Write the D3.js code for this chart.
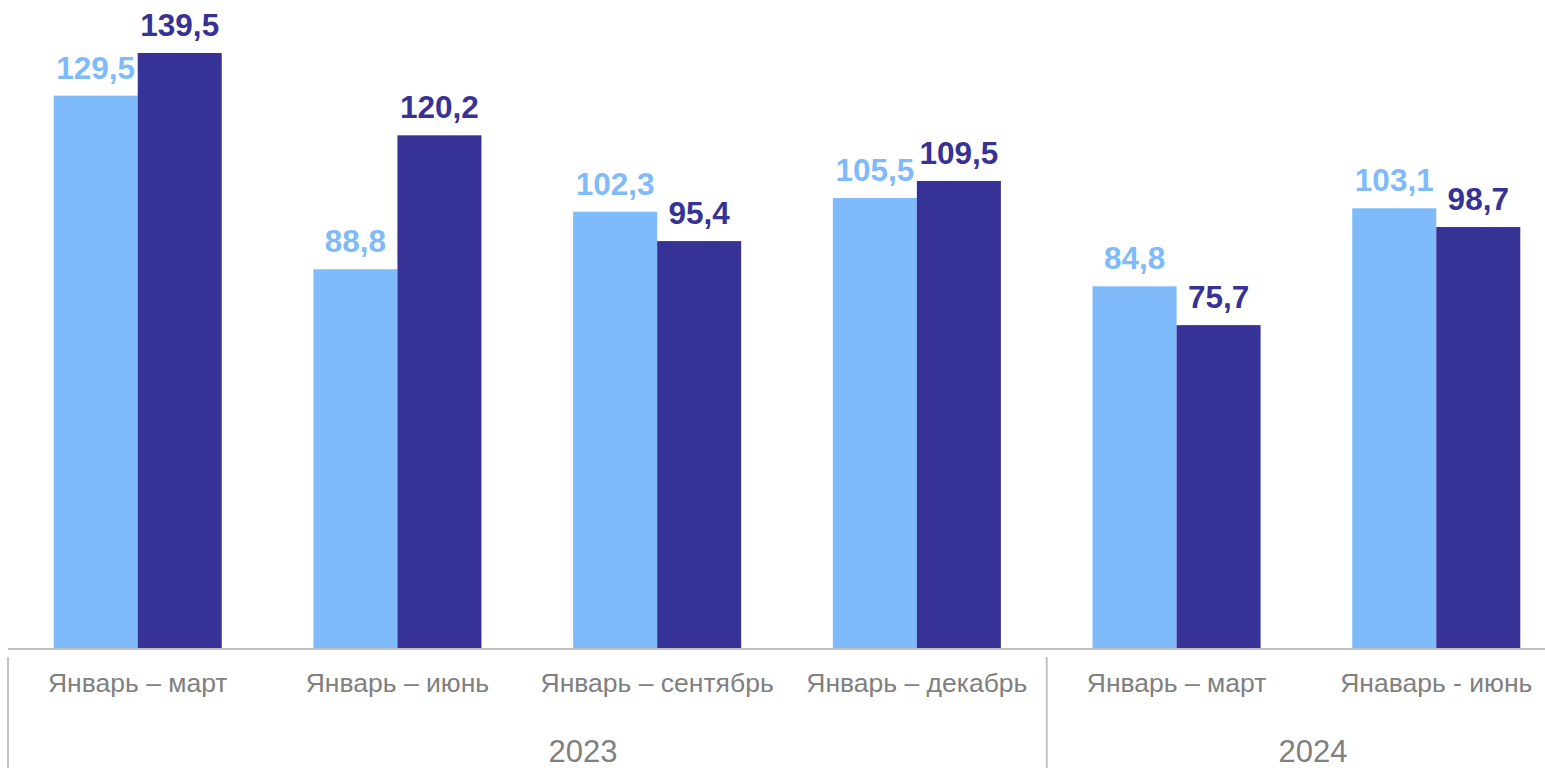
<!DOCTYPE html>
<html>
<head>
<meta charset="utf-8">
<script src="https://cdn.jsdelivr.net/npm/d3@7"></script>
<style>
  body { margin: 0; background: #fff; }
  svg text { font-family: "Liberation Sans", Arial, sans-serif; }
</style>
</head>
<body>
<div id="chart"></div>
<script>
// periods and the two series (light / dark)
var categories = ['Январь – март', 'Январь – июнь', 'Январь – сентябрь', 'Январь – декабрь', 'Январь – март', 'Янаварь - июнь'];
var seriesLight = [129.5, 88.8, 102.3, 105.5, 84.8, 103.1];
var seriesDark = [139.5, 120.2, 95.4, 109.5, 75.7, 98.7];
var years = ['2023', '2024'];

(function() {
    var width = 1545,
        height = 768,
        baseY = 648,
        topY = 53,
        lightColor = '#7fbbfb',
        darkColor = '#373296',
        textGray = '#808080',
        lineGray = '#c0c0c0';

    var fmt = function(v) { return d3.format('.1f')(v).replace('.', ','); };

    var svg = d3.select('#chart').append('svg')
        .attr('width', width)
        .attr('height', height);

    // category bands, last band runs past the right edge like the original
    var x = d3.scaleBand()
        .domain(d3.range(categories.length))
        .range([8, 1566])
        .paddingInner(0.353)
        .paddingOuter(0.176);

    var xs = d3.scaleBand()
        .domain(['light', 'dark'])
        .range([0, x.bandwidth()]);

    var y = d3.scaleLinear()
        .domain([0, 139.5])
        .range([baseY, topY]);

    var rows = categories.map(function(c, i) {
        return { i: i, name: c, values: [['light', seriesLight[i]], ['dark', seriesDark[i]]] };
    });

    var group = svg.selectAll('g.cat')
        .data(rows)
        .enter().append('g')
        .attr('class', 'cat')
        .attr('transform', function(d) { return 'translate(' + x(d.i) + ',0)'; });

    group.selectAll('rect')
        .data(function(d) { return d.values; })
        .enter().append('rect')
        .attr('x', function(d) { return xs(d[0]); })
        .attr('y', function(d) { return y(d[1]); })
        .attr('width', xs.bandwidth())
        .attr('height', function(d) { return baseY - y(d[1]); })
        .attr('fill', function(d) { return d[0] === 'light' ? lightColor : darkColor; });

    group.selectAll('text.value')
        .data(function(d) { return d.values; })
        .enter().append('text')
        .attr('class', 'value')
        .attr('x', function(d) { return xs(d[0]) + xs.bandwidth() / 2; })
        .attr('y', function(d) { return y(d[1]) - 17; })
        .attr('text-anchor', 'middle')
        .attr('font-size', 31.5)
        .attr('font-weight', 'bold')
        .attr('fill', function(d) { return d[0] === 'light' ? lightColor : darkColor; })
        .text(function(d) { return fmt(d[1]); });

    //  axis line
    svg.append('line')
        .attr('x1', 8).attr('x2', width)
        .attr('y1', baseY + 1).attr('y2', baseY + 1)
        .attr('stroke', lineGray)
        .attr('stroke-width', 2);

    //  category labels
    svg.selectAll('text.cat-label')
        .data(rows)
        .enter().append('text')
        .attr('class', 'cat-label')
        .attr('x', function(d) { return x(d.i) + x.bandwidth() / 2; })
        .attr('y', 692)
        .attr('text-anchor', 'middle')
        .attr('font-size', 26.5)
        .attr('fill', textGray)
        .text(function(d) { return d.name; });

    //  year separators: left edge and between the two years
    var seps = [8, x(4) - (x.step() - x.bandwidth()) / 2];
    svg.selectAll('line.sep')
        .data(seps)
        .enter().append('line')
        .attr('class', 'sep')
        .attr('x1', function(d) { return d; })
        .attr('x2', function(d) { return d; })
        .attr('y1', 657).attr('y2', height)
        .attr('stroke', lineGray)
        .attr('stroke-width', 2);

    //  year labels
    var yearX = [583, 1313];
    svg.selectAll('text.year')
        .data(years)
        .enter().append('text')
        .attr('class', 'year')
        .attr('x', function(d, i) { return yearX[i]; })
        .attr('y', 762)
        .attr('text-anchor', 'middle')
        .attr('font-size', 31)
        .attr('fill', textGray)
        .text(function(d) { return d; });
})();
</script>
</body>
</html>
